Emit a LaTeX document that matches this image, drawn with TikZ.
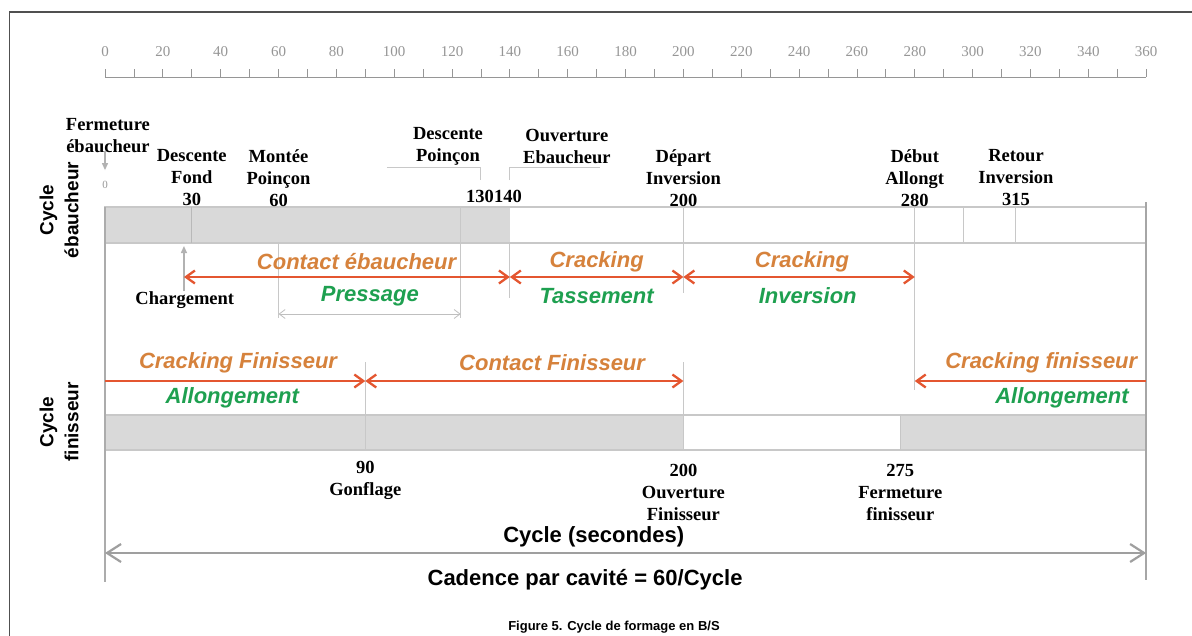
\documentclass[tikz,border=0pt]{standalone}
\usepackage{fontspec}
\setmainfont{Liberation Serif}
\setsansfont{Liberation Sans}
\usetikzlibrary{arrows.meta}
\definecolor{phaseorange}{RGB}{214,130,60}
\definecolor{phasegreen}{RGB}{30,160,80}
\definecolor{arrowred}{RGB}{228,86,48}
\definecolor{bandgray}{RGB}{217,217,217}
\definecolor{linegray}{RGB}{200,200,200}
\definecolor{scalegray}{RGB}{150,150,150}
\definecolor{framegray}{RGB}{80,80,80}
\tikzset{
  evlabel/.style={font=\bfseries\fontsize{18.5}{22}\selectfont, align=center, inner sep=0pt},
  scalenum/.style={font=\fontsize{15}{17}\selectfont, text=scalegray, inner sep=0pt},
  phase/.style={font=\sffamily\bfseries\itshape\fontsize{22}{26}\selectfont, text=phaseorange, inner sep=0pt},
  subphase/.style={phase, text=phasegreen},
  cyclelabel/.style={font=\sffamily\bfseries\fontsize{19}{25}\selectfont, align=center, rotate=90, inner sep=0pt},
  bigtext/.style={font=\sffamily\bfseries\fontsize{22}{26}\selectfont, inner sep=0pt},
  guide/.style={draw=linegray, line width=1pt},
  band/.style={draw=linegray, line width=1.2pt},
  phasearrow/.style={draw=arrowred, line width=2.3pt},
  feed/.style={draw=gray!60, line width=1.2pt, arrows={-Triangle[length=7pt,width=6pt]}},
  >={Straight Barb[length=9pt,width=13pt]}
}
\begin{document}
\begin{tikzpicture}[x=2.892pt, y=-1pt]
\useasboundingbox (-36.307,0) rectangle (375.864,635);
\fill[white] (-36.307,0) rectangle (375.864,635);
\draw[framegray, line width=1.5pt] (-33.02,700) -- (-33.02,12) -- (380,12);

% time scale
\draw[scalegray, line width=0.8pt] (0,77) -- (360,77);
\foreach \s in {0,10,...,360}
  \draw[scalegray, line width=0.8pt] (\s,69) -- (\s,77);
\foreach \s in {0,20,...,360}
  \node[scalenum] (s\s) at (\s,52) {\s};

% bands
\fill[bandgray] (0,207) rectangle (140,243);
\draw[band] (0,207) rectangle (360,243);
\fill[bandgray] (0,415) rectangle (200,450);
\fill[bandgray] (275,415) rectangle (360,450);
\draw[band] (0,415) rectangle (360,450);

\draw[guide, draw=gray!55] (30,207) -- (30,243);
\draw[guide] (60,243) -- (60,318);
\draw[guide] (123,207) -- (123,318);
\draw[guide] (140,243) -- (140,298);
\draw[guide] (200,207) -- (200,293);
\draw[guide] (280,207) -- (280,390);
\draw[guide] (297,207) -- (297,243);
\draw[guide] (315,207) -- (315,243);
\draw[guide] (90,362) -- (90,450);
\draw[guide] (200,362) -- (200,450);
\draw[guide, draw=gray!45] (275,415) -- (275,450);
\draw[draw=gray!65, line width=1.5pt] (0,207) -- (0,582);
\draw[draw=gray!70, line width=2pt] (360,202) -- (360,580);
\draw[guide] (97.5,167) -- (130,167) -- (130,180);
\draw[guide] (140,180) -- (140,167) -- (171,167);

% events
\node[evlabel] (fermeb) at (1,136) {Fermeture\\ébaucheur};
\node[scalenum, font=\fontsize{11}{13}\selectfont] (zero) at (0,185) {0};
\coordinate (f0) at (0,151);
\draw[feed, shorten >=11pt] (f0) -- (zero);
\node[evlabel] (dfond) at (30,178) {Descente\\Fond\\30};
\node[evlabel] (mpoin) at (60,178) {Montée\\Poinçon\\60};
\node[evlabel] (dpoin) at (118.6,146) {Descente\\Poinçon};
\node[evlabel] (ouveb) at (159.7,146) {Ouverture\\Ebaucheur};
\node[evlabel, anchor=east] (t130) at (134.5,196) {130};
\node[evlabel, anchor=west] (t140) at (134.5,196) {140};
\node[evlabel] (dinv) at (200,178) {Départ\\Inversion\\200};
\node[evlabel] (dall) at (280,178) {Début\\Allongt\\280};
\node[evlabel] (rinv) at (315,178) {Retour\\Inversion\\315};
\node[evlabel] (charg) at (27.6,300) {Chargement};
\coordinate (chtip) at (27.3,246);
\draw[feed] (charg.north -| chtip) -- (chtip);

\node[evlabel] (gonf) at (90,480) {90\\Gonflage};
\node[evlabel] (ouvfin) at (200,492) {200\\Ouverture\\Finisseur};
\node[evlabel] (fermfin) at (275,492) {275\\Fermeture\\finisseur};

% phases
\coordinate (a0) at (27.3,277);
\coordinate (a1) at (140,277);
\coordinate (a2) at (200,277);
\coordinate (a3) at (280,277);
\draw[phasearrow, <->] (a0) -- (a1);
\draw[phasearrow, <->] (a1) -- (a2);
\draw[phasearrow, <->] (a2) -- (a3);
\coordinate (p0) at (60,314);
\coordinate (p1) at (123,314);
\draw[draw=gray!50, line width=0.8pt, arrows={Straight Barb[length=6pt,width=9pt]-Straight Barb[length=6pt,width=9pt]}] (p0) -- (p1);

\coordinate (b0) at (0,381);
\coordinate (b1) at (90,381);
\coordinate (b2) at (200,381);
\coordinate (b3) at (280,381);
\coordinate (b4) at (360,381);
\draw[phasearrow, ->] (b0) -- (b1);
\draw[phasearrow, <->] (b1) -- (b2);
\draw[phasearrow, ->] (b4) -- (b3);

\node[phase] (contacteb) at (87,262) {Contact ébaucheur};
\node[phase] (crack1) at (170,262) {Cracking};
\node[phase] (crack2) at (241,262) {Cracking};
\node[subphase] (press) at (91.6,296) {Pressage};
\node[subphase] (tass) at (170,296) {Tassement};
\node[subphase] (inv) at (243,296) {Inversion};
\node[phase] (crackfin1) at (46,363) {Cracking Finisseur};
\node[subphase] (allong1) at (44,398) {Allongement};
\node[phase] (contactfin) at (154.6,363) {Contact Finisseur};
\node[phase, anchor=east] (crackfin2) at (357,363) {Cracking finisseur};
\node[subphase, anchor=east] (allong2) at (354,398) {Allongement};

\node[cyclelabel] (cyceb) at (-15.9,210) {Cycle\\ébaucheur};
\node[cyclelabel] (cycfin) at (-15.9,422) {Cycle\\finisseur};

% cycle
\coordinate (c0) at (0,553);
\coordinate (c1) at (360,553);
\draw[draw=gray!75, line width=2.2pt, arrows={Straight Barb[length=14pt,width=18pt]-Straight Barb[length=14pt,width=18pt]}] (c0) -- (c1);
\node[bigtext] (cycsec) at (169,537) {Cycle (secondes)};
\node[bigtext] (cadence) at (166,580) {Cadence par cavité = 60/Cycle};
\node[font=\sffamily\bfseries\fontsize{13}{15}\selectfont, anchor=south, inner sep=0pt] (caption) at (176,633) {Figure 5. Cycle de formage en B/S};
\end{tikzpicture}
\end{document}
